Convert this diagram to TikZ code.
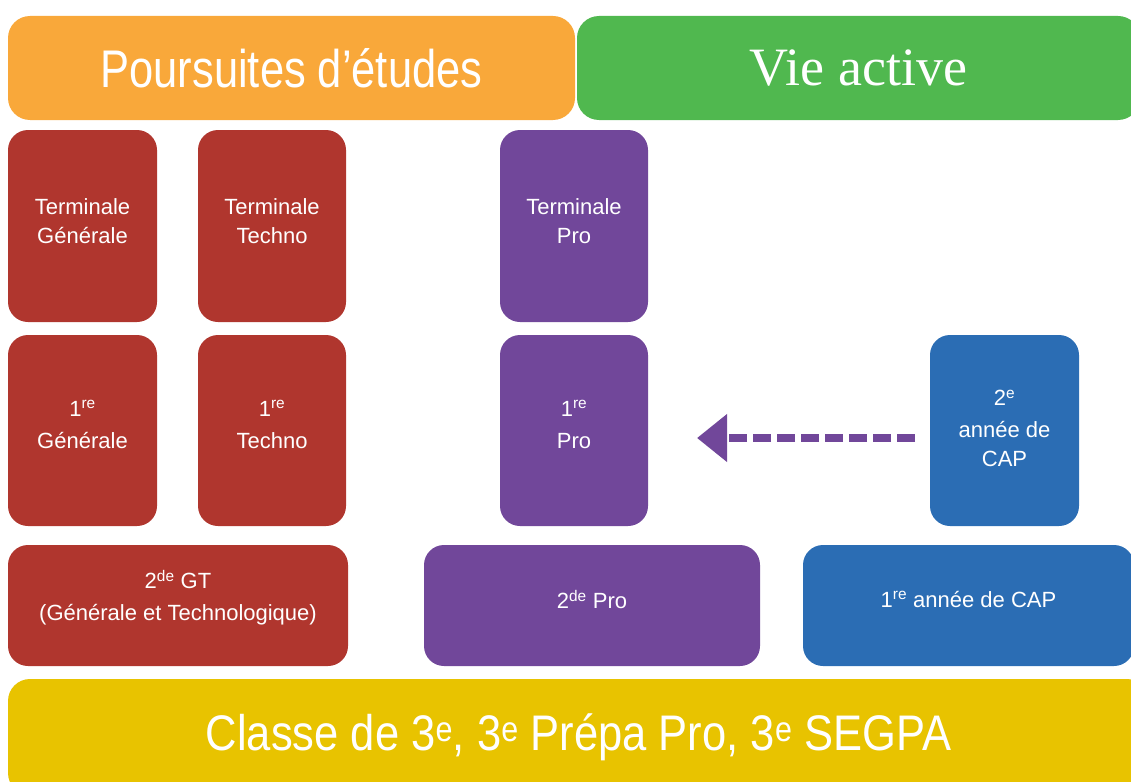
\documentclass[tikz,border=0pt]{standalone}
\usepackage{fontspec}
\setmainfont{Liberation Sans}
\newfontfamily\seriffam{Liberation Serif}
\usetikzlibrary{arrows.meta}
\definecolor{cOrange}{HTML}{F9A83A}
\definecolor{cGreen}{HTML}{50B84F}
\definecolor{cRed}{HTML}{B0362E}
\definecolor{cPurple}{HTML}{71479A}
\definecolor{cBlue}{HTML}{2B6DB4}
\definecolor{cYellow}{HTML}{E8C300}
\newcommand\ex[1]{\textsuperscript{#1}}
\tikzset{
  box/.style={rounded corners=20pt, inner sep=0pt, outer sep=0pt},
  lbl/.style={inner sep=0pt, text=white, align=center, font=\fontsize{22}{29}\selectfont},
  big/.style={rounded corners=22pt, inner sep=0pt, outer sep=0pt, text=white, align=center},
  flow/.style={cPurple, line width=8pt, dash pattern=on 18pt off 6pt,
    -{Triangle[length=30pt,width=46pt]}}
}
\begin{document}
\begin{tikzpicture}[x=1pt,y=-1pt]
\useasboundingbox (0,0) rectangle (1131,781);
\begin{scope}
\clip (0,0) rectangle (1131,781);
\node[big, fill=cOrange, minimum width=567pt, minimum height=104pt,
  font=\fontsize{53}{60}\selectfont] (pe) at (291.5,68) {\scalebox{0.82}[1]{Poursuites d’études}};
\node[big, fill=cGreen, minimum width=563pt, minimum height=104pt,
  font=\seriffam\fontsize{54}{60}\selectfont] (va) at (858.5,68) {Vie active};
\node[box, fill=cRed, minimum width=149pt, minimum height=192pt] (tg) at (82.5,226) {};
\node[box, fill=cRed, minimum width=148pt, minimum height=192pt] (tt) at (272,226) {};
\node[box, fill=cPurple, minimum width=148pt, minimum height=192pt] (tp) at (574,226) {};
\node[box, fill=cRed, minimum width=149pt, minimum height=191pt] (pg) at (82.5,430.5) {};
\node[box, fill=cRed, minimum width=148pt, minimum height=191pt] (pt) at (272,430.5) {};
\node[box, fill=cPurple, minimum width=148pt, minimum height=191pt] (pp) at (574,430.5) {};
\node[box, fill=cBlue, minimum width=149pt, minimum height=191pt] (cap2) at (1004.5,430.5) {};
\node[box, fill=cRed, minimum width=340pt, minimum height=121pt] (gt) at (178,605.5) {};
\node[box, fill=cPurple, minimum width=336pt, minimum height=121pt] (sp) at (592,605.5) {};
\node[box, fill=cBlue, minimum width=331pt, minimum height=121pt] (cap1) at (968.5,605.5) {};
\node[big, fill=cYellow, minimum width=1141pt, minimum height=116pt,
  font=\fontsize{50}{56}\selectfont] (cl) at (578.5,737) {\scalebox{0.87}[1]{Classe de 3\ex{e}, 3\ex{e} Prépa Pro, 3\ex{e} SEGPA}};
\end{scope}
\node[lbl] (tgl) at ([yshift=5pt]tg.center) {Terminale\\Générale};
\node[lbl] (ttl) at ([yshift=5pt]tt.center) {Terminale\\Techno};
\node[lbl] (tpl) at ([yshift=5pt]tp.center) {Terminale\\Pro};
\node[lbl] (pgl) at ([yshift=6pt]pg.center) {1\ex{re}\\[3pt]Générale};
\node[lbl] (ptl) at ([yshift=6pt]pt.center) {1\ex{re}\\[3pt]Techno};
\node[lbl] (ppl) at ([yshift=6pt]pp.center) {1\ex{re}\\[3pt]Pro};
\node[lbl] (capl2) at ([yshift=2pt]cap2.center) {2\ex{e}\\[3pt]année de\\CAP};
\node[lbl] (gtl) at ([yshift=8pt]gt.center) {2\ex{de} GT\\[3pt](Générale et Technologique)};
\node[lbl] (spl) at ([yshift=6pt]sp.center) {2\ex{de} Pro};
\node[lbl] (capl1) at ([yshift=6pt]cap1.center) {1\ex{re} année de CAP};
\coordinate (as) at (915,438);
\coordinate (ae) at (697,438);
\draw[flow] (as) -- (ae);
\end{tikzpicture}
\end{document}
